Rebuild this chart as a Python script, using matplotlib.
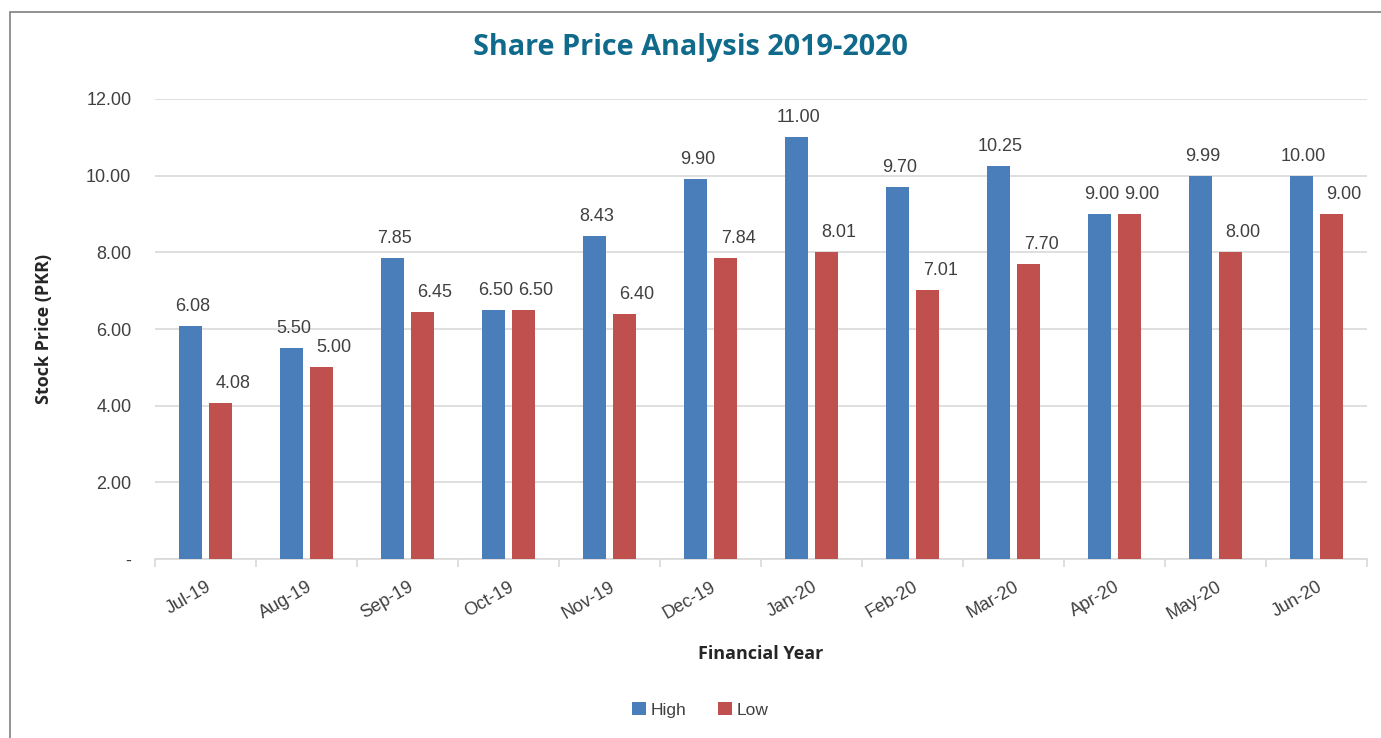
import matplotlib.pyplot as plt
import numpy as np
from matplotlib.patches import Rectangle

months = ['Jul-19', 'Aug-19', 'Sep-19', 'Oct-19', 'Nov-19', 'Dec-19',
          'Jan-20', 'Feb-20', 'Mar-20', 'Apr-20', 'May-20', 'Jun-20']
high = [6.08, 5.50, 7.85, 6.50, 8.43, 9.90, 11.00, 9.70, 10.25, 9.00, 9.99, 10.00]
low = [4.08, 5.00, 6.45, 6.50, 6.40, 7.84, 8.01, 7.01, 7.70, 9.00, 8.00, 9.00]
yticks = [0, 2, 4, 6, 8, 10, 12]
ytick_labels = ['-', '2.00', '4.00', '6.00', '8.00', '10.00', '12.00']

blue = '#4a7ebb'
red = '#c0504d'
txt = '#404040'

plt.rcParams['font.family'] = ['Liberation Sans', 'DejaVu Sans']

fig = plt.figure(figsize=(13.81, 7.38), dpi=100)
ax = fig.add_axes([0.1122, 0.2425, 0.8777, 0.6234])

# outer border of the chart frame
fig.patches.append(Rectangle((0.0072, -0.1), 1.2, 1.1 - 12 / 738, transform=fig.transFigure,
                             fill=False, edgecolor='#7f7f7f', lw=1.2, zorder=0))

x = np.arange(len(months))
w = 0.23
b1 = ax.bar(x - 0.15, high, w, color=blue, label='High', zorder=3)
b2 = ax.bar(x + 0.15, low, w, color=red, label='Low', zorder=3)

# data labels (red ones sit a little to the right, like the original)
for bars, vals, dx in ((b1, high, 1.5), (b2, low, 9)):
    for r, v in zip(bars, vals):
        ax.annotate('%.2f' % v, (r.get_x() + r.get_width() / 2, v),
                    xytext=(dx, 8), textcoords='offset points',
                    ha='center', va='bottom', fontsize=13, color=txt)

ax.set_xlim(-0.5, len(months) - 0.5)
ax.set_ylim(0, 12)
ax.set_yticks(yticks)
ax.set_yticklabels(ytick_labels, fontsize=13, color=txt)
ax.yaxis.grid(True, color='#d9d9d9', lw=1.2, zorder=0)
ax.tick_params(axis='y', length=0, pad=17)

ax.set_xticks(x)
ax.set_xticklabels(months, rotation=30, ha='right', rotation_mode='anchor',
                   fontsize=13, color=txt)
ax.set_xticks(np.arange(-0.5, len(months)), minor=True)
ax.tick_params(axis='x', which='major', length=0, pad=14)
ax.tick_params(axis='x', which='minor', length=6, color='#d9d9d9', width=1.2)

for s in ['top', 'right', 'left']:
    ax.spines[s].set_visible(False)
ax.spines['bottom'].set_color('#d9d9d9')
ax.spines['bottom'].set_linewidth(1.2)

ax.set_xlabel('Financial Year', fontsize=13, fontweight='bold', color='#262626',
              family=['Open Sans', 'DejaVu Sans'], labelpad=16)
ax.set_ylabel('Stock Price (PKR)', fontsize=13, fontweight='bold', color='#262626',
              family=['Open Sans', 'DejaVu Sans'], labelpad=24)
fig.text(0.5, 0.935, 'Share Price Analysis 2019-2020', ha='center', va='center',
         fontsize=20.8, fontweight='bold', color='#0f6a8b', family=['Open Sans', 'DejaVu Sans'])

fig.legend(handles=[b1, b2], labels=['High', 'Low'], loc='center',
           bbox_to_anchor=(0.507, 0.038), ncol=2, frameon=False, fontsize=12.5,
           handlelength=0.8, handleheight=0.8, handletextpad=0.3, columnspacing=1.8,
           labelcolor=txt)

fig.savefig('out.png', dpi=100)
